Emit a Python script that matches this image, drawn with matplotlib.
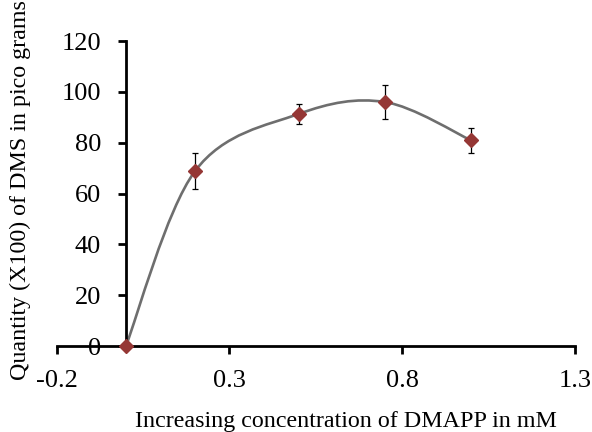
import matplotlib.pyplot as plt
from matplotlib.path import Path
from matplotlib.patches import PathPatch

plt.rcParams['font.family'] = 'serif'
plt.rcParams['font.serif'] = ['Liberation Serif', 'Times New Roman', 'DejaVu Serif']

conc = [0.0, 0.2, 0.5, 0.75, 1.0]
dms = [0.0, 68.8, 91.3, 96.0, 80.9]
err = [0.0, 7.0, 3.8, 6.7, 5.0]

x_ticks = [-0.2, 0.3, 0.8, 1.3]
x_labels = ['-0.2', '0.3', '0.8', '1.3']
y_ticks = [0, 20, 40, 60, 80, 100, 120]


def smooth_path(xs, ys):
    # excel style smoothed line: catmull-rom segments as cubic beziers
    pts = list(zip(xs, ys))
    n = len(pts)
    verts = [pts[0]]
    codes = [Path.MOVETO]
    for i in range(n - 1):
        p0 = pts[i - 1] if i > 0 else pts[i]
        p1 = pts[i]
        p2 = pts[i + 1]
        p3 = pts[i + 2] if i + 2 < n else pts[i + 1]
        c1 = (p1[0] + (p2[0] - p0[0]) / 6, p1[1] + (p2[1] - p0[1]) / 6)
        c2 = (p2[0] - (p3[0] - p1[0]) / 6, p2[1] - (p3[1] - p1[1]) / 6)
        verts += [c1, c2, p2]
        codes += [Path.CURVE4] * 3
    return Path(verts, codes)


fig = plt.figure(figsize=(5.92, 4.32), dpi=100)
ax = fig.add_axes([0.096, 0.199, 0.875, 0.706])

ax.add_patch(PathPatch(smooth_path(conc, dms), facecolor='none',
                       edgecolor='#6e6e6e', lw=1.9, zorder=2))
ax.errorbar(conc[1:], dms[1:], yerr=err[1:], fmt='none', ecolor='black',
            elinewidth=0.9, capsize=2.5, capthick=0.9, zorder=3)
ax.plot(conc, dms, linestyle='none', marker='D', ms=7,
        color='#953735', zorder=4, clip_on=False)

ax.set_xlim(-0.2, 1.3)
ax.set_ylim(0, 120)
ax.set_xticks(x_ticks)
ax.set_xticklabels(x_labels)
ax.set_yticks(y_ticks)

ax.spines['left'].set_position(('data', 0))
ax.spines['top'].set_visible(False)
ax.spines['right'].set_visible(False)
for s in ['left', 'bottom']:
    ax.spines[s].set_linewidth(2.0)
ax.tick_params(axis='both', direction='out', length=6, width=2.0,
               labelsize=19)
ax.tick_params(axis='y', pad=12)
ax.tick_params(axis='x', pad=11)

fig.text(346 / 592, (432 - 421) / 432, 'Increasing concentration of DMAPP in mM',
         fontsize=17.3, ha='center', va='center')
fig.text(0.034, (432 - 190) / 432, 'Quantity (X100) of DMS in pico grams',
         fontsize=17.3, ha='center', va='center', rotation=90)

fig.savefig('out.png', dpi=100)
